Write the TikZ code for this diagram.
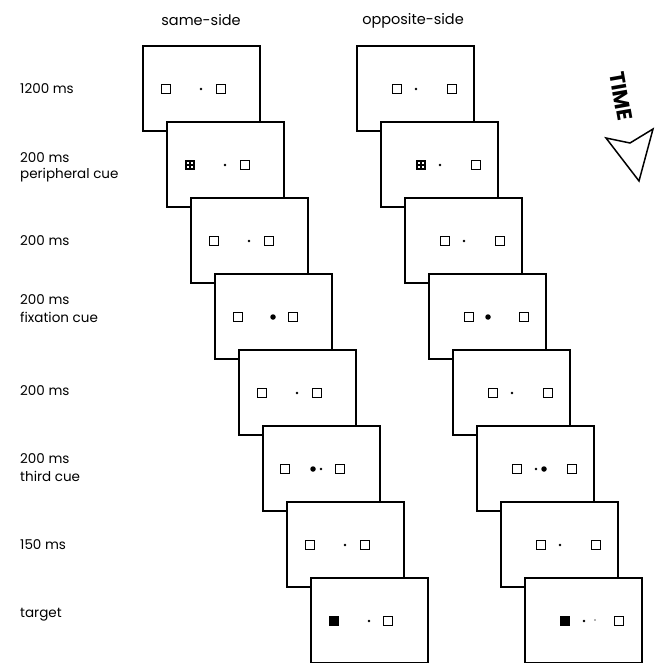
\documentclass[tikz,border=0pt]{standalone}
\usepackage{fontspec}
\setmainfont{Poppins}
\begin{document}
\begin{tikzpicture}[x=1pt,y=-1pt,
  frm/.style={draw,line width=1.4pt,fill=white,minimum width=117pt,minimum height=85pt,anchor=north west,inner sep=0pt,outer sep=0pt},
  sq/.style={draw,line width=1.5pt,fill=white,minimum size=9pt,inner sep=0pt},
  tgt/.style={fill=black,minimum size=10pt,inner sep=0pt},
  cue/.style={fill=black,minimum size=10pt,inner sep=0pt},
  dot/.style={circle,fill=black,minimum size=2.6pt,inner sep=0pt},
  bigdot/.style={circle,fill=black,minimum size=5.5pt,inner sep=0pt},
  tiny/.style={circle,fill=black!60,minimum size=1.6pt,inner sep=0pt},
  lbl/.style={anchor=west,inner sep=0pt,font=\fontsize{13.5}{14}\selectfont},
  hdr/.style={inner sep=0pt,font=\fontsize{14.5}{15}\selectfont}]
\clip (0,0) rectangle (658,663);
% headers
\node[hdr] (hs) at (201,20) {same-side};
\node[hdr] (ho) at (413,21) {opposite-side};
% labels
\node[lbl] (l1) at (20,89) {1200 ms};
\node[lbl] (l2a) at (20,158) {200 ms};
\node[lbl] (l2b) at (20,175) {peripheral cue};
\node[lbl] (l3) at (20,241) {200 ms};
\node[lbl] (l4a) at (20,300) {200 ms};
\node[lbl] (l4b) at (20,317) {fixation cue};
\node[lbl] (l5) at (20,391) {200 ms};
\node[lbl] (l6a) at (20,459) {200 ms};
\node[lbl] (l6b) at (20,476) {third cue};
\node[lbl] (l7) at (20,545) {150 ms};
\node[lbl] (l8) at (20,615) {target};
% ---------- same-side column ----------
\node[frm] (s1) at (143,46) {};
\node[sq] (s1a) at (166,89) {}; \node[dot] (s1b) at (201,89) {}; \node[sq] (s1c) at (221,89) {};
\node[frm] (s2) at (167,122) {};
\node[cue] (s2a) at (190,165) {}; \node[dot] (s2b) at (225,165) {}; \node[sq] (s2c) at (245,165) {};
\foreach \dx/\dy in {-2/-2,2/-2,-2/2,2/2}{\fill[white] ([shift={(\dx-0.6,\dy-0.6)}]s2a.center) rectangle +(1.2,1.2);}
\node[frm] (s3) at (191,198) {};
\node[sq] (s3a) at (214,241) {}; \node[dot] (s3b) at (249,241) {}; \node[sq] (s3c) at (269,241) {};
\node[frm] (s4) at (215,274) {};
\node[sq] (s4a) at (238,317) {}; \node[bigdot] (s4b) at (273,317) {}; \node[sq] (s4c) at (293,317) {};
\node[frm] (s5) at (239,350) {};
\node[sq] (s5a) at (262,393) {}; \node[dot] (s5b) at (297,393) {}; \node[sq] (s5c) at (317,393) {};
\node[frm] (s6) at (263,426) {};
\node[sq] (s6a) at (285,469) {}; \node[bigdot] (s6d) at (313,469) {}; \node[dot] (s6b) at (321,469) {}; \node[sq] (s6c) at (340,469) {};
\node[frm] (s7) at (287,502) {};
\node[sq] (s7a) at (310,545) {}; \node[dot] (s7b) at (345,545) {}; \node[sq] (s7c) at (365,545) {};
\node[frm] (s8) at (311,578) {};
\node[tgt] (s8a) at (334,621) {}; \node[dot] (s8b) at (369,621) {}; \node[sq] (s8c) at (388,621) {};
% ---------- opposite-side column ----------
\node[frm] (o1) at (357,46) {};
\node[sq] (o1a) at (397,89) {}; \node[dot] (o1b) at (416,89) {}; \node[sq] (o1c) at (452,89) {};
\node[frm] (o2) at (381,122) {};
\node[cue] (o2a) at (421,165) {}; \node[dot] (o2b) at (440,165) {}; \node[sq] (o2c) at (476,165) {};
\foreach \dx/\dy in {-2/-2,2/-2,-2/2,2/2}{\fill[white] ([shift={(\dx-0.6,\dy-0.6)}]o2a.center) rectangle +(1.2,1.2);}
\node[frm] (o3) at (405,198) {};
\node[sq] (o3a) at (445,241) {}; \node[dot] (o3b) at (464,241) {}; \node[sq] (o3c) at (500,241) {};
\node[frm] (o4) at (429,274) {};
\node[sq] (o4a) at (469,317) {}; \node[bigdot] (o4b) at (488,317) {}; \node[sq] (o4c) at (524,317) {};
\node[frm] (o5) at (453,350) {};
\node[sq] (o5a) at (493,393) {}; \node[dot] (o5b) at (512,393) {}; \node[sq] (o5c) at (548,393) {};
\node[frm] (o6) at (477,426) {};
\node[sq] (o6a) at (517,469) {}; \node[dot] (o6b) at (536,469) {}; \node[bigdot] (o6d) at (544,469) {}; \node[sq] (o6c) at (572,469) {};
\node[frm] (o7) at (501,502) {};
\node[sq] (o7a) at (541,545) {}; \node[dot] (o7b) at (560,545) {}; \node[sq] (o7c) at (596,545) {};
\node[frm] (o8) at (525,578) {};
\node[tgt] (o8a) at (565,621) {}; \node[dot] (o8b) at (584,621) {}; \node[tiny] (o8d) at (595,620) {}; \node[sq] (o8c) at (619,621) {};
% ---------- TIME arrow ----------
\node[font=\bfseries\fontsize{21}{21}\selectfont,rotate=-80,inner sep=0pt] (time) at (621,96) {TIME};
\draw[line width=1.5pt,line join=miter] (606,138) -- (630,143) -- (653,129) -- (639,181) -- cycle;
\end{tikzpicture}
\end{document}
